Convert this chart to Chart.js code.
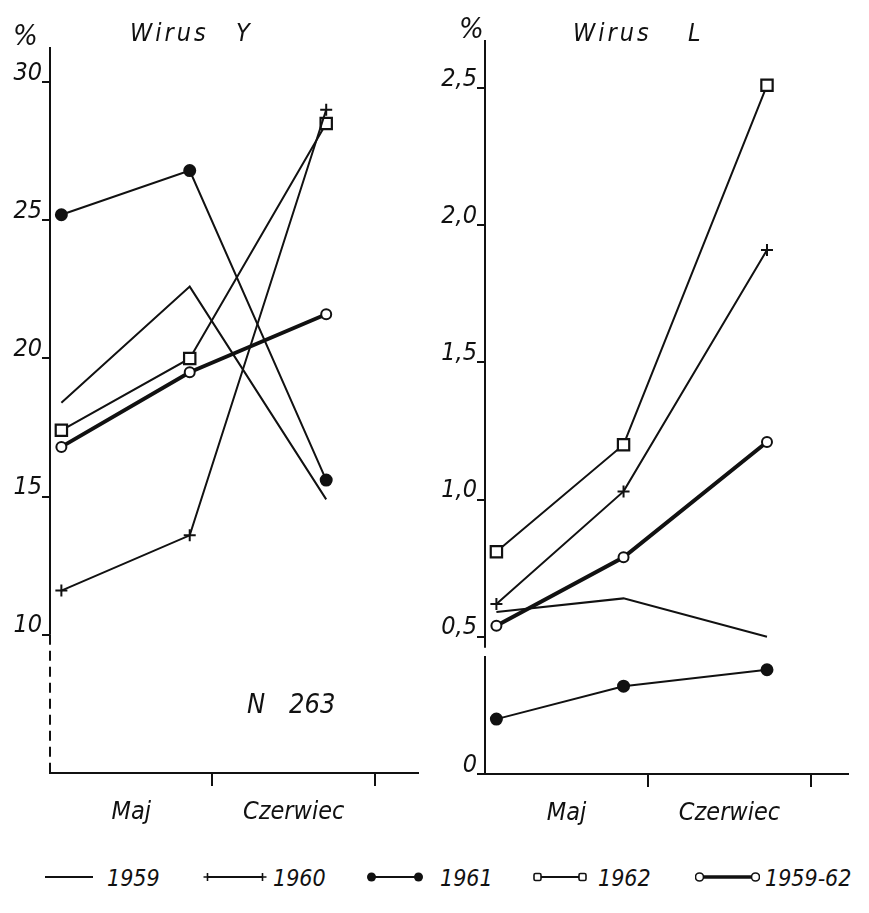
<!DOCTYPE html>
<html>
<head>
<meta charset="utf-8">
<script src="https://cdn.jsdelivr.net/npm/chart.js@4"></script>
<style>
    body { margin: 0; background: #fff; width: 869px; height: 913px; overflow: hidden; position: relative;
           font-family: "DejaVu Sans Condensed", "DejaVu Sans", sans-serif; font-style: italic; color: #111; }
    canvas { position: absolute; top: 0; }
    #chartY { left: 0; }
    #chartL { left: 435px; }
    .txt { position: absolute; font-size: 25px; line-height: 1; white-space: pre; }
    .ttl { letter-spacing: 3px; }
    .pct { font-size: 29px; }
    .leg { position: absolute; top: 864px; font-size: 23px; line-height: 28px; white-space: pre; }
    svg.sw { position: absolute; top: 863px; }
</style>
</head>
<body>
<canvas id="chartY" width="435" height="840"></canvas>
<canvas id="chartL" width="434" height="840"></canvas>

<div class="txt pct" style="left:13px;top:21px">%</div>
<div class="txt ttl" style="left:130px;top:20px">Wirus</div>
<div class="txt" style="left:236px;top:20px">Y</div>
<div class="txt pct" style="left:459px;top:14px">%</div>
<div class="txt ttl" style="left:573px;top:20px">Wirus</div>
<div class="txt" style="left:688px;top:20px">L</div>
<div class="txt" style="left:247px;top:690px;font-size:27px">N</div>
<div class="txt" style="left:289px;top:690px;font-size:27px">263</div>

<div id="legend"></div>

<script>
// months and series names
const months = ['Maj', 'Czerwiec'];
const years = ['1959', '1960', '1961', '1962', '1959-62'];

// Wirus Y (%)
const xY = [0.07, 0.86, 1.70];
const wirusY1959 = [18.4, 22.6, 14.9];
const wirusY1960 = [11.6, 13.6, 29.0];
const wirusY1961 = [25.2, 26.8, 15.6];
const wirusY1962 = [17.4, 20.0, 28.5];
const wirusYAll = [16.8, 19.5, 21.6];
const ticksY = [10, 15, 20, 25, 30];
const tickLabelsY = ['10', '15', '20', '25', '30'];

// Wirus L (%)
const xL = [0.07, 0.85, 1.73];
const wirusL1959 = [0.59, 0.64, 0.50];
const wirusL1960 = [0.62, 1.03, 1.91];
const wirusL1961 = [0.20, 0.32, 0.38];
const wirusL1962 = [0.81, 1.20, 2.51];
const wirusLAll = [0.54, 0.79, 1.21];
const ticksL = [0, 0.5, 1, 1.5, 2, 2.5];
const tickLabelsL = ['0', '0,5', '1,0', '1,5', '2,0', '2,5'];

const ink = '#111';
const font = { family: '"DejaVu Sans Condensed", "DejaVu Sans", sans-serif', size: 25, style: 'italic' };

// look of each year
const looks = {
    '1959':    { pointRadius: 0, borderWidth: 2 },
    '1960':    { pointStyle: 'cross', pointRadius: 6, pointBorderWidth: 2, borderWidth: 2 },
    '1961':    { pointStyle: 'circle', pointRadius: 5.5, pointBackgroundColor: ink, borderWidth: 2 },
    '1962':    { pointStyle: 'rect', pointRadius: 8, pointBackgroundColor: '#fff', pointBorderWidth: 2.2, borderWidth: 2 },
    '1959-62': { pointStyle: 'circle', pointRadius: 5, pointBackgroundColor: '#fff', pointBorderWidth: 2, borderWidth: 4 }
};

// draws the y axis line, with a dashed part or a gap
const axisLine = {
    id: 'axisLine',
    afterDraw(chart, args, opts) {
        const ctx = chart.ctx;
        const { left, top, bottom } = chart.chartArea;
        const y = chart.scales.y;
        ctx.save();
        ctx.strokeStyle = ink;
        ctx.lineWidth = 2;
        ctx.beginPath();
        if (opts.dashBelow != null) {
            const yb = y.getPixelForValue(opts.dashBelow);
            ctx.moveTo(left, top); ctx.lineTo(left, yb); ctx.stroke();
            ctx.setLineDash([10, 6]);
            ctx.beginPath(); ctx.moveTo(left, yb); ctx.lineTo(left, bottom); ctx.stroke();
        } else if (opts.gap) {
            const g1 = y.getPixelForValue(opts.gap[1]);
            const g0 = y.getPixelForValue(opts.gap[0]);
            ctx.moveTo(left, top); ctx.lineTo(left, g1);
            ctx.moveTo(left, g0); ctx.lineTo(left, bottom);
            ctx.stroke();
        }
        ctx.restore();
    }
};

function makeChart(id, xs, series, yMin, yMax, xMax, ticks, tickLabels, axisOpts, pad, xHeight) {
    const datasets = series.map((vals, i) => Object.assign({
        label: years[i],
        data: vals.map((v, j) => ({ x: xs[j], y: v })),
        borderColor: ink,
        pointBorderColor: ink,
        backgroundColor: ink,
        tension: 0,
        clip: false
    }, looks[years[i]]));

    return new Chart(document.getElementById(id), {
        type: 'line',
        data: { datasets: datasets },
        plugins: [axisLine],
        options: {
            responsive: false,
            animation: false,
            events: [],
            layout: { padding: pad },
            plugins: {
                legend: { display: false },
                tooltip: { enabled: false },
                axisLine: axisOpts
            },
            scales: {
                x: {
                    type: 'linear',
                    min: 0,
                    max: xMax,
                    afterBuildTicks: s => { s.ticks = [0.5, 1, 1.5, 2].map(v => ({ value: v })); },
                    afterFit: s => { s.height = xHeight; },
                    border: { display: true, color: ink, width: 2 },
                    grid: {
                        drawOnChartArea: false,
                        tickLength: 13,
                        lineWidth: 2,
                        color: c => (c.tick && Number.isInteger(c.tick.value)) ? ink : 'rgba(0,0,0,0)'
                    },
                    ticks: {
                        autoSkip: false,
                        maxRotation: 0,
                        padding: 11,
                        color: ink,
                        font: font,
                        callback: v => v === 0.5 ? months[0] : (v === 1.5 ? months[1] : '')
                    }
                },
                y: {
                    type: 'linear',
                    min: yMin,
                    max: yMax,
                    afterBuildTicks: s => { s.ticks = ticks.map(v => ({ value: v })); },
                    afterFit: s => { s.width = 50; },
                    border: { display: false },
                    grid: { drawOnChartArea: false, tickLength: 8, lineWidth: 2, color: ink },
                    ticks: {
                        padding: 0,
                        labelOffset: -9,
                        color: ink,
                        font: font,
                        callback: (v, i) => tickLabels[i]
                    }
                }
            }
        }
    });
}

makeChart('chartY', xY, [wirusY1959, wirusY1960, wirusY1961, wirusY1962, wirusYAll],
    5, 31.27, 2.265, ticksY, tickLabelsY, { dashBelow: 10 },
    { top: 47, right: 17, left: 0, bottom: 0 }, 67);

makeChart('chartL', xL, [wirusL1959, wirusL1960, wirusL1961, wirusL1962, wirusLAll],
    0, 2.675, 2.227, ticksL, tickLabelsL, { gap: [0.43, 0.46] },
    { top: 40, right: 21, left: 0, bottom: 0 }, 66);

// legend below both panels
const swatchLeft = [45, 203, 367, 533, 695];
const swatchWidth = [48, 64, 56, 54, 65];
const textLeft = [107, 273, 440, 598, 765];
const legend = document.getElementById('legend');
years.forEach((yr, i) => {
    const w = swatchWidth[i];
    const mid = 14;
    let s = '';
    const lw = yr === '1959-62' ? 3.5 : 2;
    if (yr === '1959') {
        s = `<line x1="0" y1="${mid}" x2="${w}" y2="${mid}" stroke="${ink}" stroke-width="2"/>`;
    } else {
        s = `<line x1="5" y1="${mid}" x2="${w - 5}" y2="${mid}" stroke="${ink}" stroke-width="${lw}"/>`;
        [4.5, w - 4.5].forEach(cx => {
            if (yr === '1960') {
                s += `<path d="M${cx - 4} ${mid}h8M${cx} ${mid - 4}v8" stroke="${ink}" stroke-width="1.6"/>`;
            } else if (yr === '1961') {
                s += `<circle cx="${cx}" cy="${mid}" r="4.5" fill="${ink}"/>`;
            } else if (yr === '1962') {
                s += `<rect x="${cx - 3.5}" y="${mid - 3.5}" width="7" height="7" rx="1.5" fill="#fff" stroke="${ink}" stroke-width="1.6"/>`;
            } else {
                s += `<circle cx="${cx}" cy="${mid}" r="4" fill="#fff" stroke="${ink}" stroke-width="1.6"/>`;
            }
        });
    }
    legend.insertAdjacentHTML('beforeend',
        `<svg class="sw" style="left:${swatchLeft[i]}px" width="${w}" height="28">${s}</svg>` +
        `<div class="leg" style="left:${textLeft[i]}px">${yr}</div>`);
});
</script>
</body>
</html>
